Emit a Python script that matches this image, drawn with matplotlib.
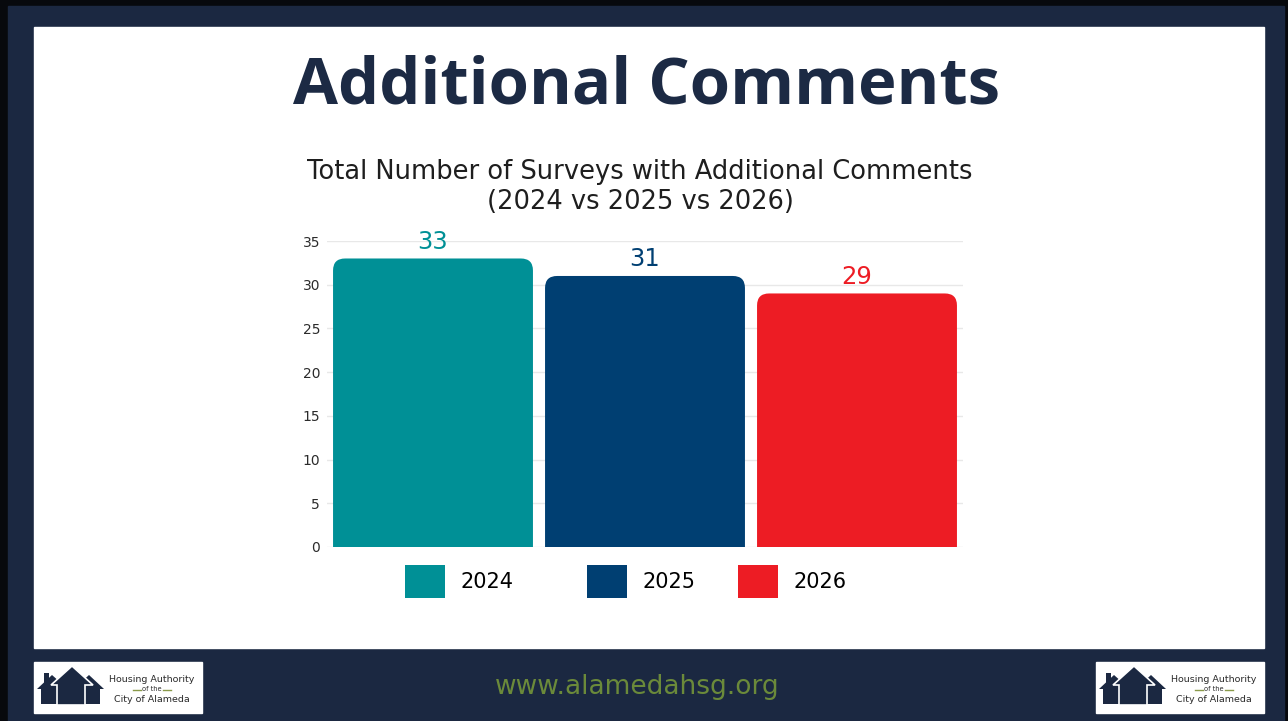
import matplotlib
matplotlib.use("Agg")
import matplotlib.pyplot as plt
from matplotlib.patches import Rectangle, Polygon, FancyBboxPatch, Patch

# ---- data -------------------------------------------------------------
years = ["2024", "2025", "2026"]
comments = [33, 31, 29]
bar_colors = ["#009096", "#003f72", "#ed1c24"]
y_ticks = [0, 5, 10, 15, 20, 25, 30, 35]

slide_title = "Additional Comments"
chart_title = "Total Number of Surveys with Additional Comments\n(2024 vs 2025 vs 2026)"
site_url = "www.alamedahsg.org"

NAVY = "#1b2841"
W, H = 1288, 721

fig = plt.figure(figsize=(W / 100, H / 100), dpi=100, facecolor="#07090d")


def fx(px):
    return px / W


def fy(py):
    return 1 - py / H


# ---- slide background (pixel coordinates) -----------------------------
bg = fig.add_axes([0, 0, 1, 1], zorder=0)
bg.set_xlim(0, W)
bg.set_ylim(H, 0)
bg.axis("off")
bg.add_patch(Rectangle((8, 6), 1276, 720, color=NAVY))
bg.add_patch(Rectangle((34, 27), 1230, 621, color="white"))

bg.text(647, 104, slide_title, ha="center", va="baseline", fontsize=47,
        fontweight="bold", family="Open Sans", color="#1c2a44")
bg.text(640, 187, chart_title, ha="center", va="center", fontsize=18.5,
        family="DejaVu Sans", color="#1e1e1e", linespacing=1.2)

bg.text(637, 687, site_url, ha="center", va="center", fontsize=19,
        family="DejaVu Sans", color="#6b8a3a")


def draw_logo(x0, y0):
    bg.add_patch(Rectangle((x0, y0), 168, 51, color="white"))
    dx, dy = x0 - 34, y0 - 662
    house = "#1b2841"

    def poly(pts, **kw):
        bg.add_patch(Polygon([(x + dx, y + dy) for x, y in pts], closed=True, **kw))

    # left house with chimney
    poly([(41, 704), (41, 689), (37, 689), (52, 675), (61, 683), (61, 704)],
         facecolor=house, edgecolor="none")
    poly([(44, 684), (44, 673), (49, 673), (49, 680)], facecolor=house, edgecolor="none")
    # right house
    poly([(80, 704), (80, 684), (76, 687), (89, 675), (104, 689), (100, 689), (100, 704)],
         facecolor=house, edgecolor="none")
    # middle house on top
    poly([(57, 705), (57, 685), (51, 685), (72, 666), (93, 685), (85, 685), (85, 705)],
         facecolor=house, edgecolor="white", linewidth=1.2)
    bg.text(x0 + 118, y0 + 18, "Housing Authority", ha="center", va="center",
            fontsize=6.8, family="DejaVu Sans", color="#2a2a2a")
    bg.text(x0 + 118, y0 + 27, "of the", ha="center", va="center",
            fontsize=4.8, family="DejaVu Sans", color="#2a2a2a")
    bg.plot([x0 + 99, x0 + 107], [y0 + 27.5] * 2, color="#8a9a4a", lw=1)
    bg.plot([x0 + 129, x0 + 137], [y0 + 27.5] * 2, color="#8a9a4a", lw=1)
    bg.text(x0 + 118, y0 + 37, "City of Alameda", ha="center", va="center",
            fontsize=6.8, family="DejaVu Sans", color="#2a2a2a")


draw_logo(34, 662)
draw_logo(1096, 662)

# ---- bar chart --------------------------------------------------------
left, right, top, bottom = 327, 963, 241, 547
ax = fig.add_axes([fx(left), fy(bottom), fx(right - left), (bottom - top) / H], zorder=2)
ax.patch.set_alpha(0)

positions = list(range(len(years)))
bars = ax.bar(positions, comments, width=0.943, color=bar_colors, zorder=2)
ax.set_xlim(-0.5, len(years) - 0.5)
ax.set_ylim(0, 35)

# swap the plain rectangles for top-rounded ones
for rect, col in zip(bars, bar_colors):
    x0, w, h = rect.get_x(), rect.get_width(), rect.get_height()
    rect.set_visible(False)
    ax.add_patch(FancyBboxPatch((x0, -5), w, h + 5,
                                boxstyle="round,pad=0,rounding_size=0.057",
                                mutation_aspect=24, facecolor=col,
                                edgecolor="none", zorder=2))

for pos, val, col in zip(positions, comments, bar_colors):
    ax.annotate(str(val), (pos, val), xytext=(0, 3.5), textcoords="offset points",
                ha="center", va="bottom", fontsize=17.5, color=col,
                family="DejaVu Sans")

ax.set_yticks(y_ticks)
ax.set_yticklabels([str(t) for t in y_ticks], family="DejaVu Sans", fontsize=10,
                   color="#2b2b2b")
ax.tick_params(axis="y", length=0, pad=5)
ax.set_xticks([])
ax.grid(axis="y", color="#e8e8e8", linewidth=1, zorder=0)
ax.set_axisbelow(True)
for s in ax.spines.values():
    s.set_visible(False)

# one legend entry per year, each anchored at its own swatch position
swatch_left = [405, 587, 738]
for year, col, xl in zip(years, bar_colors, swatch_left):
    fig.legend([Patch(facecolor=col, edgecolor="none")], [year],
               loc="center left", bbox_to_anchor=(fx(xl), fy(581.5)),
               frameon=False, handlelength=1.92, handleheight=2.06,
               handletextpad=0.72, borderpad=0, borderaxespad=0,
               prop={"family": "DejaVu Sans", "size": 15})

fig.savefig("out.png", dpi=100, facecolor=fig.get_facecolor())
